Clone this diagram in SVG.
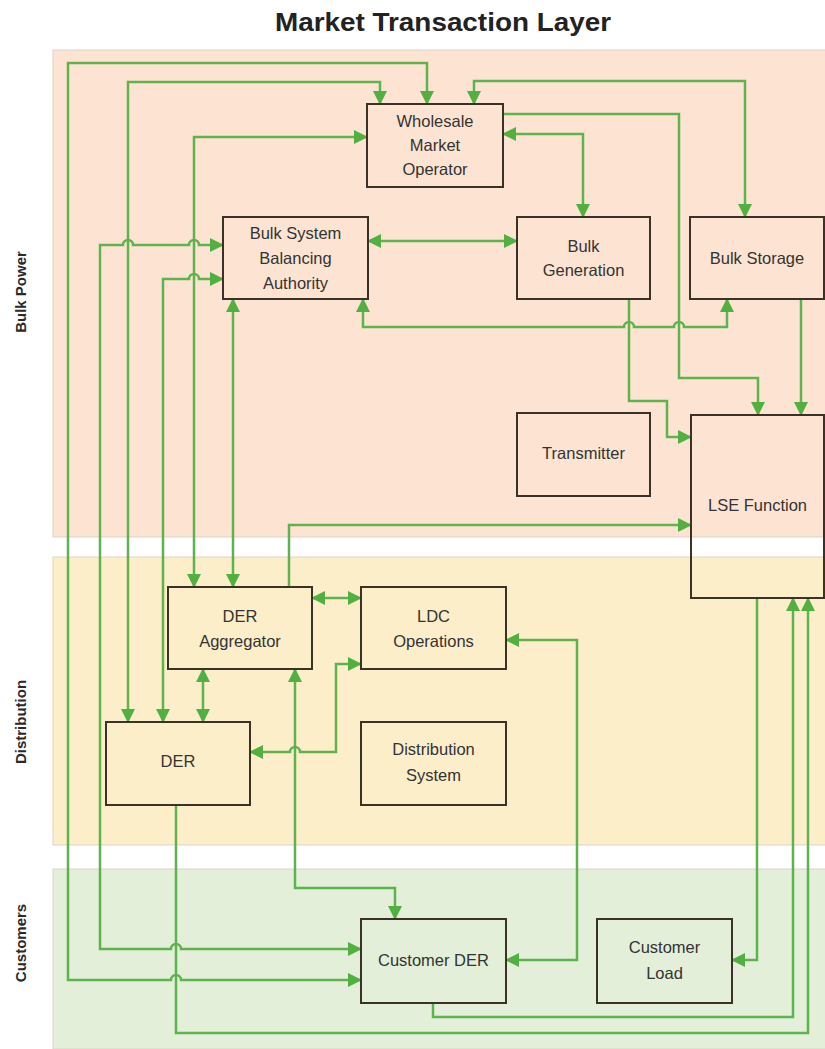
<svg xmlns="http://www.w3.org/2000/svg" width="825" height="1049" viewBox="0 0 825 1049">
<style>
  .band{stroke:#ddd3c8;stroke-width:1}
  .box{fill:none;stroke:#3a3226;stroke-width:2}
  .lbl{font-family:"Liberation Sans",Arial,sans-serif;font-size:16.5px;fill:#333;text-anchor:middle}
  .lane{font-family:"Liberation Sans",Arial,sans-serif;font-size:15px;font-weight:bold;fill:#2a2a2a;text-anchor:middle}
  .title{font-family:"Liberation Sans",Arial,sans-serif;font-size:25px;font-weight:bold;fill:#222;text-anchor:middle}
  .c{fill:none;stroke:#5fb34e;stroke-width:2.5;stroke-linejoin:miter}
  .both{marker-start:url(#ah);marker-end:url(#ah)}
  .one{marker-end:url(#ah)}
</style>
<defs>
  <marker id="ah" markerUnits="userSpaceOnUse" markerWidth="14" markerHeight="14" refX="13" refY="7" orient="auto-start-reverse" viewBox="0 0 14 14">
    <path d="M0,0 L14,7 L0,14 z" fill="#52b043"/>
  </marker>
</defs>
<rect x="0" y="0" width="825" height="1049" fill="#ffffff"/>
<text class="title" x="443" y="31" textLength="336" lengthAdjust="spacingAndGlyphs">Market Transaction Layer</text>

<g id="lanes">
  <rect class="band" x="53" y="50" width="773" height="487" fill="#fde4d2"/>
  <rect class="band" x="53" y="557" width="773" height="288" fill="#fdeeca"/>
  <rect class="band" x="53" y="869" width="773" height="180" fill="#e3efd9"/>
  <text class="lane" transform="translate(26,292) rotate(-90)">Bulk Power</text>
  <text class="lane" transform="translate(26,722) rotate(-90)">Distribution</text>
  <text class="lane" transform="translate(26,943) rotate(-90)">Customers</text>
</g>

<g id="connectors">
  <path class="c both" d="M427,104 V63 H68 V980 H171 A5 5 0 0 1 181 980 H361"/>
  <path class="c both" d="M380,104 V82 H128 V722"/>
  <path class="c both" d="M223,245 H199 A5 5 0 0 0 189 245 H133 A5 5 0 0 0 123 245 H100 V949 H171 A5 5 0 0 1 181 949 H361"/>
  <path class="c both" d="M223,279 H199 A5 5 0 0 0 189 279 H163 V722"/>
  <path class="c both" d="M367,137 H194 V587"/>
  <path class="c both" d="M233,299 V587"/>
  <path class="c both" d="M368,241 H517"/>
  <path class="c both" d="M363,299 V327 H624 A5 5 0 0 1 634 327 H674 A5 5 0 0 1 684 327 H727 V299"/>
  <path class="c both" d="M503,134 H583 V217"/>
  <path class="c both" d="M474,104 V81 H745 V217"/>
  <path class="c one" d="M503,114 H679 V378 H758 V415"/>
  <path class="c one" d="M629,299 V401 H667 V437 H691"/>
  <path class="c one" d="M801,299 V415"/>
  <path class="c one" d="M289,587 V525 H691"/>
  <path class="c both" d="M312,598 H361"/>
  <path class="c both" d="M203,669 V722"/>
  <path class="c both" d="M250,752 H290 A5 5 0 0 1 300 752 H336 V664 H361"/>
  <path class="c both" d="M295,669 V888 H395 V919"/>
  <path class="c both" d="M506,640 H577 V960 H506"/>
  <path class="c one" d="M757,598 V960 H732"/>
  <path class="c one" d="M176,805 V1033 H808 V598"/>
  <path class="c one" d="M433,1003 V1017 H793 V598"/>
</g>

<g id="wholesale-market-operator">
  <rect class="box" x="367" y="104" width="136" height="83"/>
  <text class="lbl" x="435" y="127">Wholesale</text>
  <text class="lbl" x="435" y="151">Market</text>
  <text class="lbl" x="435" y="175">Operator</text>
</g>
<g id="bulk-system-balancing-authority">
  <rect class="box" x="223" y="217" width="145" height="82"/>
  <text class="lbl" x="295.5" y="239">Bulk System</text>
  <text class="lbl" x="295.5" y="264">Balancing</text>
  <text class="lbl" x="295.5" y="289">Authority</text>
</g>
<g id="bulk-generation">
  <rect class="box" x="517" y="217" width="133" height="82"/>
  <text class="lbl" x="583.5" y="252">Bulk</text>
  <text class="lbl" x="583.5" y="276">Generation</text>
</g>
<g id="bulk-storage">
  <rect class="box" x="690" y="217" width="134" height="82"/>
  <text class="lbl" x="757" y="264">Bulk Storage</text>
</g>
<g id="transmitter">
  <rect class="box" x="517" y="413" width="133" height="83"/>
  <text class="lbl" x="583.5" y="459">Transmitter</text>
</g>
<g id="lse-function">
  <rect class="box" x="691" y="415" width="133" height="183"/>
  <text class="lbl" x="757.5" y="511">LSE Function</text>
</g>
<g id="der-aggregator">
  <rect class="box" x="168" y="587" width="144" height="82"/>
  <text class="lbl" x="240" y="622">DER</text>
  <text class="lbl" x="240" y="647">Aggregator</text>
</g>
<g id="ldc-operations">
  <rect class="box" x="361" y="587" width="145" height="82"/>
  <text class="lbl" x="433.5" y="622">LDC</text>
  <text class="lbl" x="433.5" y="647">Operations</text>
</g>
<g id="der">
  <rect class="box" x="106" y="722" width="144" height="83"/>
  <text class="lbl" x="178" y="767">DER</text>
</g>
<g id="distribution-system">
  <rect class="box" x="361" y="722" width="145" height="83"/>
  <text class="lbl" x="433.5" y="755">Distribution</text>
  <text class="lbl" x="433.5" y="781">System</text>
</g>
<g id="customer-der">
  <rect class="box" x="361" y="919" width="145" height="84"/>
  <text class="lbl" x="433.5" y="966">Customer DER</text>
</g>
<g id="customer-load">
  <rect class="box" x="597" y="919" width="135" height="84"/>
  <text class="lbl" x="664.5" y="953">Customer</text>
  <text class="lbl" x="664.5" y="979">Load</text>
</g>
</svg>
